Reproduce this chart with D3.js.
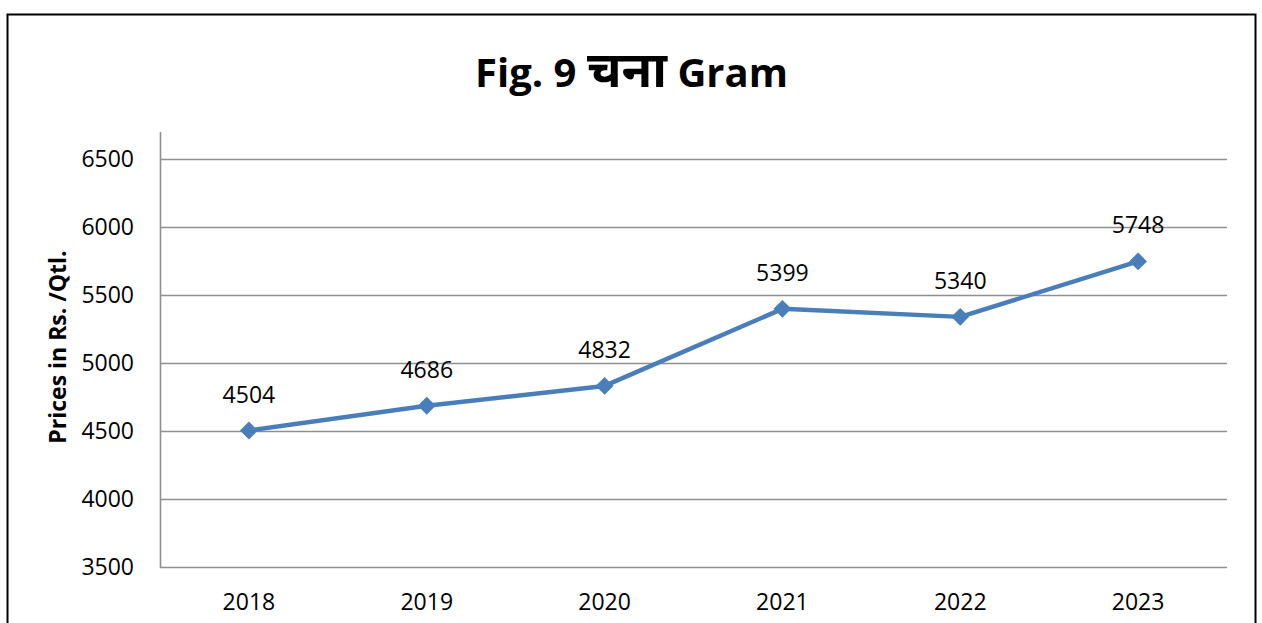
<!DOCTYPE html>
<html>
<head>
<meta charset="utf-8">
<script src="https://cdn.jsdelivr.net/npm/d3@7"></script>
<style>
  html, body { margin: 0; padding: 0; background: #fff; }
  svg { display: block; }
  text { font-family: "Open Sans", "Noto Sans", sans-serif; }
</style>
</head>
<body>
<svg id="chart" width="1262" height="623"></svg>
<script>
const titleParts = ["Fig. 9 ", "चना", " Gram"];
const yAxisTitle = "Prices in Rs. /Qtl.";
const years = ["2018", "2019", "2020", "2021", "2022", "2023"];
const prices = [4504, 4686, 4832, 5399, 5340, 5748];
const yTicks = [3500, 4000, 4500, 5000, 5500, 6000, 6500];

const svg = d3.select("#chart");
const plot = { left: 160, right: 1227, top: 132, bottom: 567 };

// outer frame
svg.append("rect")
  .attr("x", 7.5).attr("y", 14.5)
  .attr("width", 1248).attr("height", 660)
  .attr("fill", "#fff").attr("stroke", "#000").attr("stroke-width", 2);

const x = d3.scalePoint()
  .domain(years)
  .range([plot.left, plot.right])
  .padding(0.5);

const y = d3.scaleLinear()
  .domain([3500, 6700])
  .range([plot.bottom, plot.top]);

// gridlines
svg.append("g")
  .selectAll("line")
  .data(yTicks)
  .join("line")
  .attr("x1", plot.left).attr("x2", plot.right)
  .attr("y1", d => Math.round(y(d)) + 0.5).attr("y2", d => Math.round(y(d)) + 0.5)
  .attr("stroke", "#8f8f8f").attr("stroke-width", 1.6);

// y axis line
svg.append("line")
  .attr("x1", plot.left + 0.5).attr("x2", plot.left + 0.5)
  .attr("y1", plot.top).attr("y2", Math.round(y(3500)) + 1)
  .attr("stroke", "#8f8f8f").attr("stroke-width", 1.6);

// y tick labels
svg.append("g")
  .selectAll("text")
  .data(yTicks)
  .join("text")
  .attr("x", plot.left - 26)
  .attr("y", d => y(d))
  .attr("dy", "0.35em")
  .attr("text-anchor", "end")
  .attr("font-size", 23)
  .attr("fill", "#000")
  .text(d => d);

// x tick labels
svg.append("g")
  .selectAll("text")
  .data(years)
  .join("text")
  .attr("x", d => x(d))
  .attr("y", y(3500) + 43)
  .attr("text-anchor", "middle")
  .attr("font-size", 23)
  .attr("fill", "#000")
  .text(d => d);

// line
const data = years.map((yr, i) => ({ year: yr, value: prices[i] }));
svg.append("path")
  .datum(data)
  .attr("fill", "none")
  .attr("stroke", "#4a7ebb")
  .attr("stroke-width", 4.5)
  .attr("stroke-linejoin", "round")
  .attr("d", d3.line().x(d => x(d.year)).y(d => y(d.value)));

// markers (diamonds)
svg.append("g")
  .selectAll("path")
  .data(data)
  .join("path")
  .attr("transform", d => `translate(${x(d.year)},${y(d.value)}) rotate(45)`)
  .attr("d", d3.symbol().type(d3.symbolSquare).size(160))
  .attr("fill", "#4a7ebb");

// data labels
svg.append("g")
  .selectAll("text")
  .data(data)
  .join("text")
  .attr("x", d => x(d.year))
  .attr("y", d => y(d.value) - 28)
  .attr("text-anchor", "middle")
  .attr("font-size", 23)
  .attr("fill", "#000")
  .text(d => d.value);

// title
const t = svg.append("text")
  .attr("x", 631.5)
  .attr("y", 87)
  .attr("text-anchor", "middle")
  .attr("font-size", 40)
  .attr("font-weight", "bold")
  .attr("fill", "#000");
t.selectAll("tspan")
  .data(titleParts)
  .join("tspan")
  .attr("font-size", (d, i) => i === 1 ? 50 : 40)
  .text(d => d);

// y axis title
svg.append("text")
  .attr("transform", "translate(66,347) rotate(-90)")
  .attr("text-anchor", "middle")
  .attr("font-size", 23)
  .attr("font-weight", "bold")
  .attr("fill", "#000")
  .text(yAxisTitle);
</script>
</body>
</html>
